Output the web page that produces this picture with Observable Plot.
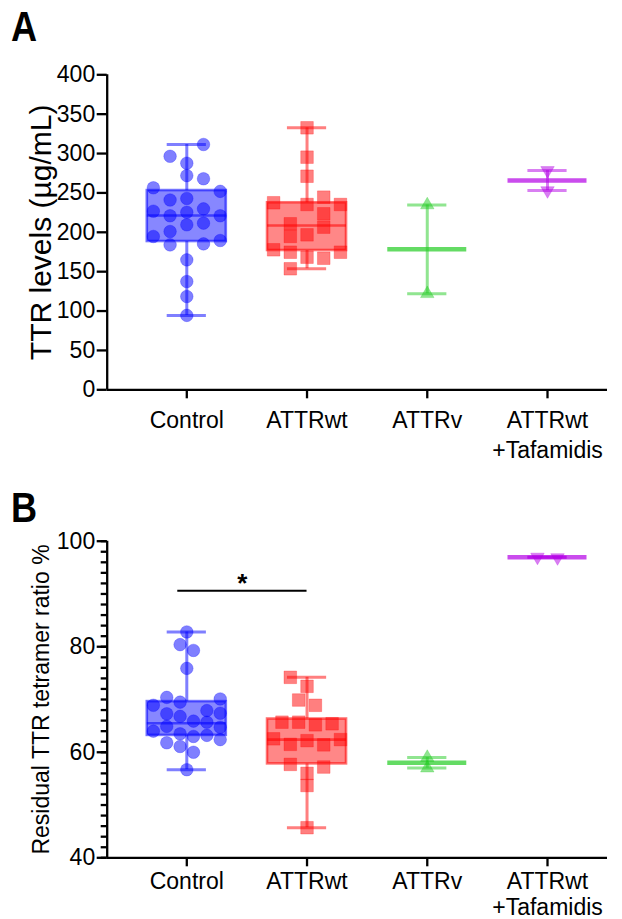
<!DOCTYPE html>
<html>
<head>
<meta charset="utf-8">
<script src="https://cdn.jsdelivr.net/npm/d3@7"></script>
<script src="https://cdn.jsdelivr.net/npm/@observablehq/plot@0.6"></script>
<style>
  body { margin: 0; background: #fff; font-family: "Liberation Sans", Arial, sans-serif; }
  #wrap { position: relative; width: 622px; height: 919px; overflow: hidden; }
  .panel { position: absolute; left: 0; }
  .letter { position: absolute; font-weight: bold; font-size: 43px; line-height: 43px; color: #000; transform: scaleX(0.84); transform-origin: left top; }
</style>
</head>
<body>
<div id="wrap">
  <div id="A" class="panel" style="top:0px"></div>
  <div id="B" class="panel" style="top:466px"></div>
  <div class="letter" style="left:11px;top:5px">A</div>
  <div class="letter" style="left:11px;top:486px">B</div>
</div>
<script>
// ---------- categories ----------
const groups = ["Control", "ATTRwt", "ATTRv", "ATTRwt\n+Tafamidis"];
const colors = ["#0000ff", "#ff0000", "#22cc22", "#b400e6"];

// ---------- Panel A : TTR levels (µg/mL) ----------
const ttrControl = [311.5, 296.5, 287.7, 272, 268, 256.5, 252, 241, 243, 226.8, 221, 225.5, 229.8, 221, 209.5, 211.6, 201, 194.7, 184, 185.3, 189.6, 165, 137.5, 118.5, 94.5];
const ttrControlJit = [2, -2, 0, 0, 2, -4, 4, -2, 0, -4, -2, 0, 2, 4, 0, 2, -2, -4, -2, 2, 4, 0, 0, 0, 0];
const ttrWt = [332.7, 295.4, 271.2, 244.6, 237.5, 235.3, 235.3, 223.5, 210.8, 206.5, 194.7, 196.8, 177.8, 174.7, 174.7, 168.4, 167.1, 153.7];
const ttrWtJit = [0, 0, 0, 2, -4, 0, 4, 2, -2, 2, -2, 0, -4, 4, -2, 0, 2, -2];
const ttrV = [234.7, 122];
const ttrVJit = [0, 0];
const ttrTaf = [278.5, 253];
const ttrTafJit = [0, 0];
const ttrQ1 = [188.3, 176.9, 178.4, 265.8];
const ttrMedian = [221.3, 208.6, 178.4, 265.8];
const ttrQ3 = [253, 237.5, 178.4, 265.8];
const ttrTicks = [0, 50, 100, 150, 200, 250, 300, 350, 400];

// ---------- Panel B : Residual TTR tetramer ratio % ----------
const resControl = [82.8, 80.4, 79.3, 75.9, 70.4, 68.9, 69.5, 70.1, 67.9, 67.4, 67.3, 66.8, 65.9, 65.7, 64.9, 64.0, 64.75, 63.5, 63.0, 63.2, 62.4, 61.8, 61.1, 60.0, 56.7];
const resControlJit = [0, -0.8, 0.8, 0, -2.4, -4, -0.8, 4, 2.4, 4, -2.4, -0.8, 0.8, 2.4, -2.4, -4, 4, -0.8, 0.8, 2.4, 4, -2.4, -0.8, 0.8, 0];
const resWt = [74.2, 72.5, 69.9, 68.9, 65.7, 65.7, 65.2, 65.4, 62.55, 61.5, 62.2, 61.4, 62.4, 57.7, 57.2, 56.0, 53.7, 45.7];
const resWtJit = [-2, 0, -1, 1, -3, -1, 1, 3, -4, -2, 0, 2, 4, -2, 2, 0, 0, 0];
const resV = [59.0, 57.0];
const resVJit = [0, 0];
const resTaf = [97.0, 96.9];
const resTafJit = [-1.2, 1.2];
const resQ1 = [63.2, 57.8, 58.0, 96.95];
const resMedian = [65.5, 62.4, 58.0, 96.95];
const resQ3 = [69.6, 66.3, 58.0, 96.95];
const resMajorTicks = [40, 60, 80, 100];
const resMinorTicks = d3.range(40, 100.1, 2);
const significance = [{from: 0, to: 1, label: "*", y: 90.6}];

// ---------- layout constants (x in category units) ----------
const X_MIN = -0.662, X_MAX = 3.499;
const JIT = 0.0695, BOX = 0.3285, CAP = 0.163;
const FS = 23;
const STYLE = {fontFamily: "'Liberation Sans', Arial, sans-serif", fontSize: FS + "px", color: "#000", background: "#fff"};

function groupMarks(valuesByGroup, jitByGroup, q1, med, q3) {
  const marks = [];
  const stats = groups.map((g, i) => ({
    i, q1: q1[i], med: med[i], q3: q3[i],
    lo: d3.min(valuesByGroup[i]), hi: d3.max(valuesByGroup[i])
  }));
  const sym = [
    {symbol: "circle", r: 6.3, rotate: 0},
    {symbol: "square", r: 7.1, rotate: 0},
    {symbol: "triangle", r: 5, rotate: 0},
    {symbol: "triangle", r: 5, rotate: 180}
  ];
  stats.forEach(s => {
    const c = colors[s.i];
    const boxed = s.q3 > s.q1;
    marks.push(Plot.ruleX([s], {x: d => d.i, y1: d => d.hi, y2: d => boxed ? d.q3 : d.med, stroke: c, strokeOpacity: 0.5, strokeWidth: 3}));
    marks.push(Plot.ruleX([s], {x: d => d.i, y1: d => d.lo, y2: d => boxed ? d.q1 : d.med, stroke: c, strokeOpacity: 0.5, strokeWidth: 3}));
    marks.push(Plot.ruleY([s], {y: d => d.hi, x1: d => d.i - CAP, x2: d => d.i + CAP, stroke: c, strokeOpacity: 0.5, strokeWidth: 3}));
    marks.push(Plot.ruleY([s], {y: d => d.lo, x1: d => d.i - CAP, x2: d => d.i + CAP, stroke: c, strokeOpacity: 0.5, strokeWidth: 3}));
    if (boxed) {
      marks.push(Plot.rect([s], {x1: d => d.i - BOX, x2: d => d.i + BOX, y1: d => d.q1, y2: d => d.q3, fill: c, fillOpacity: 0.47, stroke: c, strokeOpacity: 0.55, strokeWidth: 2.6}));
      marks.push(Plot.ruleY([s], {y: d => d.med, x1: d => d.i - BOX, x2: d => d.i + BOX, stroke: c, strokeOpacity: 0.55, strokeWidth: 2.6}));
    } else {
      marks.push(Plot.ruleY([s], {y: d => d.med, x1: d => d.i - BOX, x2: d => d.i + BOX, stroke: c, strokeOpacity: 0.7, strokeWidth: 4.5}));
    }
    const pts = valuesByGroup[s.i].map((v, k) => ({v, x: s.i + jitByGroup[s.i][k] * JIT}));
    marks.push(Plot.dot(pts, {x: "x", y: "v", symbol: sym[s.i].symbol, r: sym[s.i].r, rotate: sym[s.i].rotate,
      fill: c, fillOpacity: 0.5, stroke: c, strokeOpacity: 0.25, strokeWidth: 1}));
  });
  return marks;
}

function xAxis(pad, lh) {
  return Plot.axisX({ticks: [0, 1, 2, 3], tickFormat: i => groups[i], tickSize: 9, tickPadding: pad,
    fontSize: FS, lineHeight: lh, strokeWidth: 2.3, label: null});
}

// ---------- Panel A ----------
const chartA = Plot.plot({
  width: 622, height: 466,
  marginLeft: 106.7, marginRight: 15, marginTop: 74.3, marginBottom: 76.7,
  style: STYLE,
  x: {type: "linear", domain: [X_MIN, X_MAX]},
  y: {domain: [0, 400]},
  marks: [
    ...groupMarks([ttrControl, ttrWt, ttrV, ttrTaf], [ttrControlJit, ttrWtJit, ttrVJit, ttrTafJit], ttrQ1, ttrMedian, ttrQ3),
    Plot.axisY({ticks: ttrTicks, tickSize: 10, tickPadding: 2, fontSize: FS, strokeWidth: 2.3, label: null}),
    xAxis(8, 1.3),
    Plot.ruleX([X_MIN], {y1: 0, y2: 400, strokeWidth: 2.3}),
    Plot.ruleY([0], {x1: X_MIN, x2: X_MAX, strokeWidth: 2.3}),
    Plot.text(["TTR levels (µg/mL)"], {frameAnchor: "left", textAnchor: "middle", rotate: -90, dx: -66, fontSize: 30})
  ]
});
document.getElementById("A").append(chartA);

// ---------- Panel B ----------
const chartB = Plot.plot({
  width: 622, height: 453,
  marginLeft: 106.7, marginRight: 15, marginTop: 74.7, marginBottom: 61.7,
  style: STYLE,
  x: {type: "linear", domain: [X_MIN, X_MAX]},
  y: {domain: [40, 100]},
  marks: [
    ...groupMarks([resControl, resWt, resV, resTaf], [resControlJit, resWtJit, resVJit, resTafJit], resQ1, resMedian, resQ3),
    Plot.axisY({ticks: resMinorTicks, tickSize: 6, tickFormat: () => "", strokeWidth: 2.3, label: null}),
    Plot.axisY({ticks: resMajorTicks, tickSize: 10, tickPadding: 2, fontSize: FS, strokeWidth: 2.3, label: null}),
    xAxis(4, 1.12),
    Plot.ruleX([X_MIN], {y1: 40, y2: 100, strokeWidth: 2.3}),
    Plot.ruleY([40], {x1: X_MIN, x2: X_MAX, strokeWidth: 2.3}),
    Plot.ruleY(significance, {y: "y", x1: d => d.from - 0.075, x2: d => d.to, strokeWidth: 2}),
    Plot.text(significance, {x: d => (d.from - 0.075 + d.to) / 2, y: "y", text: "label", lineAnchor: "bottom", dy: 1, fontSize: 26, fontWeight: "bold"}),
    Plot.text(["Residual TTR tetramer ratio %"], {frameAnchor: "left", textAnchor: "middle", rotate: -90, dx: -65.7, fontSize: FS})
  ]
});
document.getElementById("B").append(chartB);
</script>
</body>
</html>
